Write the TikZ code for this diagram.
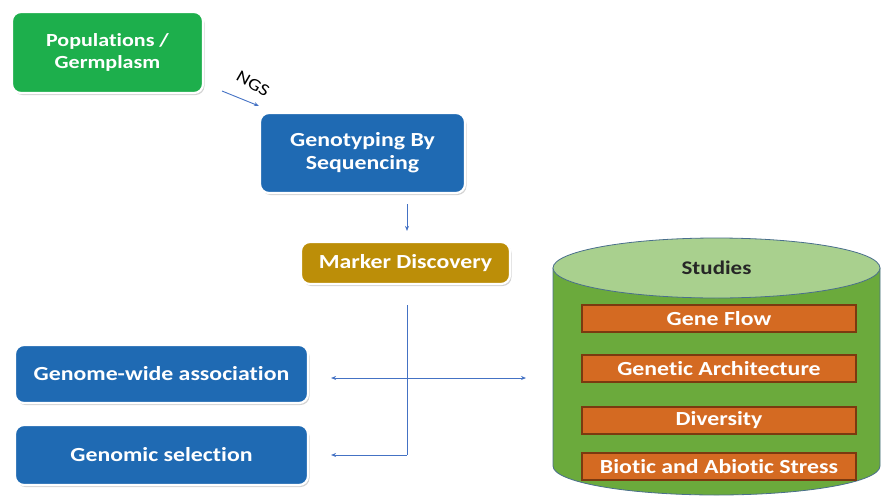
\documentclass[tikz,border=0pt]{standalone}
\usepackage{fontspec}
\setmainfont{Carlito}[FakeStretch=1.19, Ligatures={NoCommon}]
\usetikzlibrary{shadows,arrows.meta,calc,shapes.geometric}
\definecolor{cgreen}{HTML}{1DAF4C}
\definecolor{cblue}{HTML}{1F6AB3}
\definecolor{cgold}{HTML}{BC8E08}
\definecolor{cylbody}{HTML}{6BAA3C}
\definecolor{cyltop}{HTML}{A9D08E}
\definecolor{cylline}{HTML}{4A6F8C}
\definecolor{corange}{HTML}{D46A22}
\definecolor{corline}{HTML}{7A3A10}
\definecolor{carrow}{HTML}{4472C4}
\tikzset{
  box/.style={rounded corners=9pt, draw=white, line width=2.2pt, text=white,
    font=\fontsize{20}{23}\selectfont\bfseries, align=center, inner sep=0pt,
    drop shadow={shadow xshift=1.5pt, shadow yshift=-2pt, opacity=0.35, fill=gray}},
  bar/.style={fill=corange, draw=corline, line width=1.4pt, text=white,
    font=\fontsize{20}{22}\selectfont\bfseries, inner sep=0pt},
  conn/.style={draw=carrow, line width=0.9pt, -{Stealth[length=5pt,width=4pt]}},
}
\begin{document}
\begin{tikzpicture}[x=1pt,y=-1pt]
\useasboundingbox (0,0) rectangle (881,498);
% boxes
\node[box, fill=cgreen, minimum width=191pt, minimum height=81pt, font=\fontsize{18.5}{22}\selectfont\bfseries] (pop) at (107.5,52.5) {Populations /\\Germplasm};
\node[box, fill=cblue, minimum width=205pt, minimum height=80pt] (gbs) at (362.5,153) {Genotyping By\\Sequencing};
\node[box, fill=cgold, minimum width=209pt, minimum height=42pt] (md) at (405.5,263) {Marker Discovery};
\node[box, fill=cblue, minimum width=293pt, minimum height=58pt] (gwa) at (161.5,374) {Genome-wide association};
\node[box, fill=cblue, minimum width=293pt, minimum height=60pt] (gs) at (161.5,455) {Genomic selection};
% cylinder
\fill[cylbody, draw=cylline, line width=0.8pt] (553,268) -- (553,466) arc[start angle=180, end angle=0, x radius=163.5, y radius=29] -- (880,268) -- cycle;
\node[ellipse, fill=cyltop, draw=cylline, line width=0.8pt, minimum width=327pt, minimum height=60pt, inner sep=0pt,
  text=black!85, font=\fontsize{19.3}{22}\selectfont\bfseries] (st) at (716.5,268) {Studies};
\node[bar, minimum width=274pt, minimum height=27pt] (gf) at (719,318.5) {Gene Flow};
\node[bar, minimum width=274pt, minimum height=27pt] (ga) at (719,368.5) {Genetic Architecture};
\node[bar, minimum width=274pt, minimum height=27pt] (dv) at (719,420.5) {Diversity};
\node[bar, minimum width=274pt, minimum height=27pt] (ba) at (719,466.5) {Biotic and Abiotic Stress};
% connectors
\coordinate (ngsA) at (222,91);
\coordinate (ngsB) at (259,106);
\draw[conn] (ngsA) -- (ngsB);
\node[rotate=-30, inner sep=1pt, font=\fontsize{17}{18}\selectfont] (ngs) at (253,84) {NGS};
\draw[conn] ($(gbs.south)+(44.5,10)$) -- ($(md.north)+(1.5,-10)$);
\coordinate (top) at (407,305);
\coordinate (cross) at (407,378);
\coordinate (corner) at (407,455);
\coordinate (cylL) at (526,378);
\draw[draw=carrow, line width=0.9pt] (top) -- (corner);
\draw[conn] (corner) -- ($(gs.east)+(22,0)$);
\draw[conn] (cross) -- ($(gwa.east)+(22,4)$);
\draw[conn] (cross) -- (cylL);
\end{tikzpicture}
\end{document}
